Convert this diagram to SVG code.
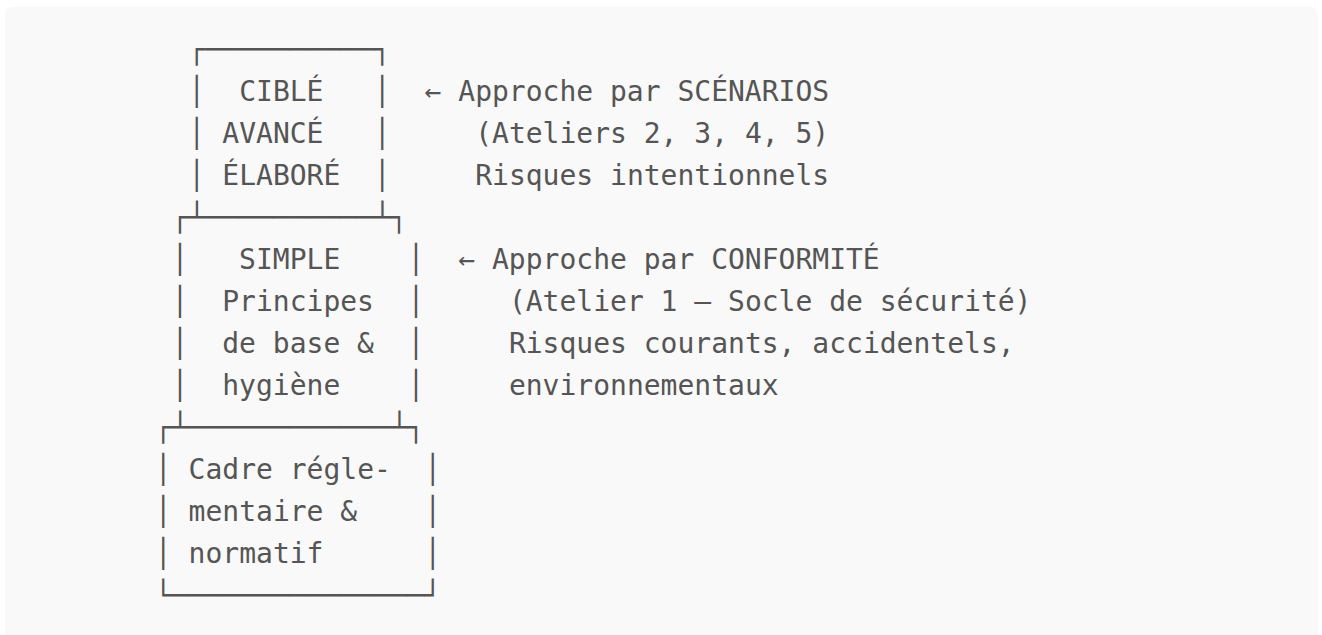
<svg xmlns="http://www.w3.org/2000/svg" width="1322" height="635" viewBox="0 0 1322 635">
<style>
text{font-family:"DejaVu Sans Mono","Liberation Mono",monospace;font-size:28px;fill:#555555;white-space:pre}
</style>
<rect x="0" y="0" width="1322" height="635" fill="#ffffff"/>
<rect x="5" y="7" width="1313" height="700" rx="8" fill="#f9f9f9"/>
<g id="tier-cible" xml:space="preserve">
<text x="188.6" y="59">┌──────────┐</text>
<text x="188.6" y="101">│  CIBLÉ   │</text>
<text x="188.6" y="143">│ AVANCÉ   │</text>
<text x="188.6" y="185">│ ÉLABORÉ  │</text>
</g>
<g id="tier-simple" xml:space="preserve">
<text x="171.7" y="227">┌┴──────────┴┐</text>
<text x="171.7" y="269">│   SIMPLE    │</text>
<text x="171.7" y="311">│  Principes  │</text>
<text x="171.7" y="353">│  de base &amp;  │</text>
<text x="171.7" y="395">│  hygiène    │</text>
</g>
<g id="tier-cadre" xml:space="preserve">
<text x="154.9" y="437">┌┴────────────┴┐</text>
<text x="154.9" y="479">│ Cadre régle-  │</text>
<text x="154.9" y="521">│ mentaire &amp;    │</text>
<text x="154.9" y="563">│ normatif      │</text>
<text x="154.9" y="605">└───────────────┘</text>
</g>
<g id="connectors">
<text x="424.6" y="101">←</text>
<text x="458.3" y="269">←</text>
</g>
<g id="note-scenarios" xml:space="preserve">
<text x="458.3" y="101">Approche par SCÉNARIOS</text>
<text x="475.2" y="143">(Ateliers 2, 3, 4, 5)</text>
<text x="475.2" y="185">Risques intentionnels</text>
</g>
<g id="note-conformite" xml:space="preserve">
<text x="492.0" y="269">Approche par CONFORMITÉ</text>
<text x="508.9" y="311">(Atelier 1 — Socle de sécurité)</text>
<text x="508.9" y="353">Risques courants, accidentels,</text>
<text x="508.9" y="395">environnementaux</text>
</g>
</svg>
